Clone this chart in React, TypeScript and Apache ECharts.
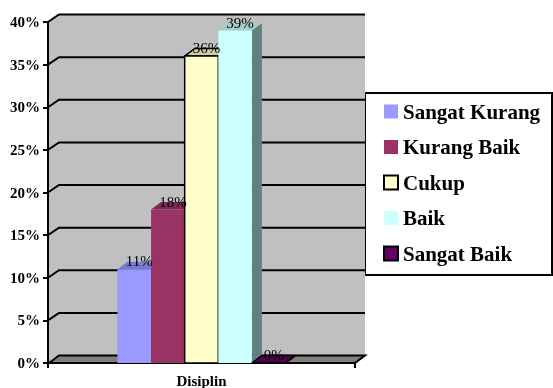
import React, { useEffect, useRef } from "react";
import * as echarts from "echarts";

const categories = ["Disiplin"];
const seriesNames = ["Sangat Kurang", "Kurang Baik", "Cukup", "Baik", "Sangat Baik"];
const seriesValues = [11, 18, 36, 39, 0];
const seriesColors = ["#9999FF", "#993366", "#FFFFCC", "#CCFFFF", "#660066"];
const seriesOutlined = [false, false, true, false, true];
const yTicks = [0, 5, 10, 15, 20, 25, 30, 35, 40];

const DX = 10;
const DY = -7.5;
const FONT = "Liberation Serif";

function shade(hex: string, f: number): string {
  const n = parseInt(hex.slice(1), 16);
  const r = Math.round(((n >> 16) & 255) * f);
  const g = Math.round(((n >> 8) & 255) * f);
  const b = Math.round((n & 255) * f);
  return `rgb(${r},${g},${b})`;
}

export default function App() {
  const ref = useRef<HTMLDivElement>(null);
  useEffect(() => {
    if (!ref.current) return;
    const chart = echarts.init(ref.current, null, { renderer: "svg" });

    const wallSeries: any = {
      type: "custom",
      name: "wall",
      z: 1,
      clip: false,
      silent: true,
      data: [[0, 0]],
      encode: { x: 0, y: 1 },
      renderItem: (_p: any, api: any) => {
        const c0 = api.coord([0, yTicks[0]]);
        const cTop = api.coord([0, yTicks[yTicks.length - 1]]);
        const band = api.size([1, 0])[0];
        const L = c0[0] - band / 2 + 1;
        const R = c0[0] + band / 2;
        const y0 = c0[1];
        const yT = cTop[1];
        const children: any[] = [
          {
            type: "polygon",
            shape: {
              points: [
                [L, y0],
                [L, yT],
                [L + DX, yT + DY],
                [R + DX, yT + DY],
                [R + DX, y0 + DY],
                [R, y0],
              ],
            },
            style: { fill: "#C0C0C0", stroke: "none" },
          },
          {
            type: "polygon",
            shape: {
              points: [
                [L, y0],
                [L + DX, y0 + DY],
                [R + DX, y0 + DY],
                [R, y0],
              ],
            },
            style: { fill: "#808080", stroke: "#000", lineWidth: 2 },
          },
        ];
        yTicks.forEach((v) => {
          if (v === 0) return;
          const y = api.coord([0, v])[1];
          children.push({
            type: "polyline",
            shape: { points: [[L - 1, y], [L + DX, y + DY], [R + DX, y + DY]] },
            style: { stroke: "#000", lineWidth: 2, fill: "none" },
          });
        });
        return { type: "group", children };
      },
    };

    const barSeries = seriesNames.map((name, i) => ({
      type: "custom",
      name,
      z: 2,
      clip: false,
      itemStyle: { color: seriesColors[i] },
      data: [[0, seriesValues[i]]],
      encode: { x: 0, y: 1 },
      renderItem: (_p: any, api: any) => {
        const base = api.coord([0, 0]);
        const top = api.coord([0, api.value(1)]);
        const band = api.size([1, 0])[0];
        const bw = band * 0.1095;
        const x0 = base[0] - bw * 2.5 + i * bw;
        const x1 = x0 + bw;
        const yb = base[1];
        const yt = top[1];
        const col = seriesColors[i];
        const stroke = seriesOutlined[i] ? "#000" : "none";
        const lw = seriesOutlined[i] ? 1.5 : 0;
        return {
          type: "group",
          children: [
            {
              type: "polygon",
              shape: {
                points: [
                  [x1, yt],
                  [x1 + DX, yt + DY],
                  [x1 + DX, yb + DY],
                  [x1, yb],
                ],
              },
              style: { fill: shade(col, 0.5), stroke, lineWidth: lw },
            },
            {
              type: "polygon",
              shape: {
                points: [
                  [x0, yt],
                  [x0 + DX, yt + DY],
                  [x1 + DX, yt + DY],
                  [x1, yt],
                ],
              },
              style: { fill: shade(col, 0.8), stroke, lineWidth: lw },
            },
            {
              type: "rect",
              shape: { x: x0, y: yt, width: bw, height: yb - yt },
              style: { fill: col, stroke, lineWidth: lw },
            },
            {
              type: "text",
              x: x0 + bw / 2 + DX / 2,
              y: yt - 8,
              z2: 100,
              style: {
                text: `${api.value(1)}%`,
                fill: "#000",
                fontSize: 15,
                fontFamily: FONT,
                align: "center",
                verticalAlign: "middle",
              },
            },
          ],
        };
      },
    }));

    chart.setOption({
      animation: false,
      grid: { left: 48, right: 198, top: 22, bottom: 25 },
      xAxis: {
        type: "category",
        data: categories,
        axisLine: { show: true, lineStyle: { color: "#000", width: 2 } },
        axisTick: { show: true, length: 5, lineStyle: { color: "#000", width: 2 } },
        axisLabel: {
          color: "#000",
          fontFamily: FONT,
          fontWeight: "bold",
          fontSize: 15,
          margin: 10,
        },
        splitLine: { show: false },
      },
      yAxis: {
        type: "value",
        min: 0,
        max: 40,
        interval: 5,
        axisLine: { show: true, lineStyle: { color: "#000", width: 2 } },
        axisTick: { show: true, length: 5, lineStyle: { color: "#000", width: 2 } },
        axisLabel: {
          formatter: "{value}%",
          color: "#000",
          fontFamily: FONT,
          fontWeight: "bold",
          fontSize: 15,
          margin: 8,
        },
        splitLine: { show: false },
      },
      legend: {
        data: seriesNames.map((n, i) => ({
          name: n,
          itemStyle: seriesOutlined[i]
            ? { color: seriesColors[i], borderColor: "#000", borderWidth: 2 }
            : { color: seriesColors[i], borderWidth: 0 },
        })),
        orient: "vertical",
        left: 383,
        top: 101,
        padding: 0,
        itemWidth: 14,
        itemHeight: 14,
        itemGap: 14.5,
        icon: "rect",
        textStyle: {
          fontFamily: FONT,
          fontWeight: "bold",
          fontSize: 21,
          color: "#000",
        },
      },
      graphic: [
        {
          type: "rect",
          z: 0,
          shape: { x: 365, y: 93, width: 187, height: 182 },
          style: { fill: "#fff", stroke: "#000", lineWidth: 2 },
        },
      ],
      series: [wallSeries, ...barSeries],
    });
    return () => chart.dispose();
  }, []);
  return <div ref={ref} style={{ position: "fixed", left: 0, top: 0, width: 553, height: 388 }} />;
}
